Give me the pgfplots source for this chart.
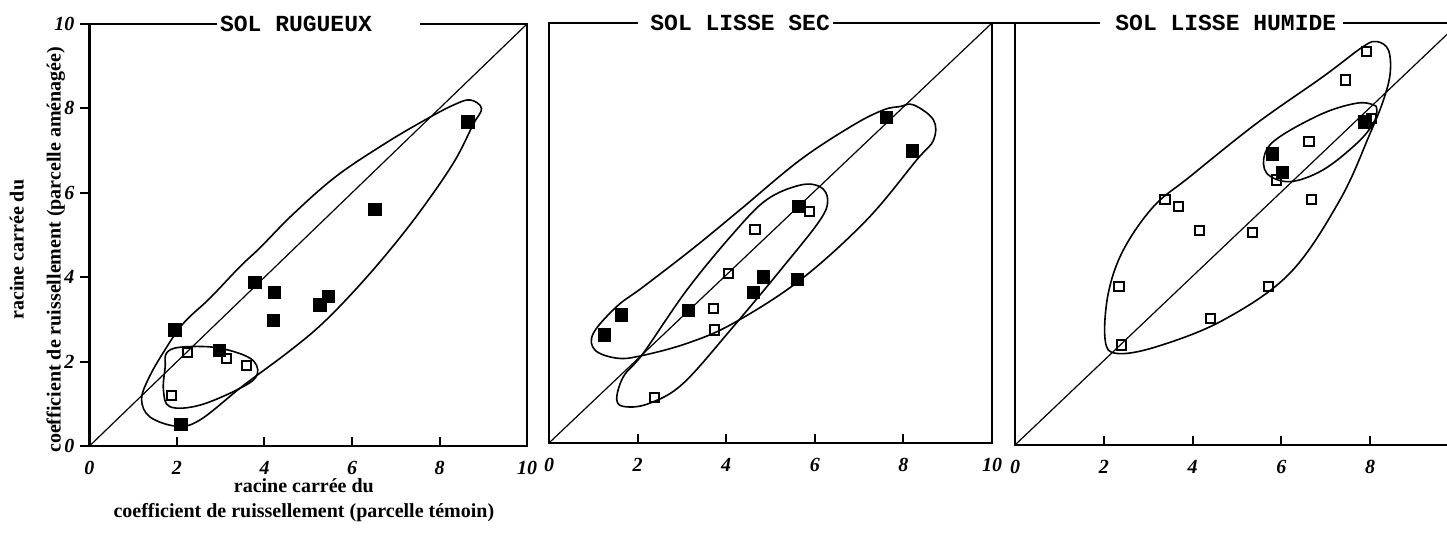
\documentclass[border=0pt]{standalone}
\usepackage{fontspec}
\setmainfont{Liberation Serif}
\setmonofont{Liberation Mono}
\usepackage{pgfplots}
\pgfplotsset{compat=1.18}
\pgfplotsset{
  panel/.style={
    scale only axis,
    xmin=0,xmax=10,ymin=0,ymax=10,
    clip=false,
    axis line style={line width=1.3pt},
    xtick={0,2,4,6,8,10},
    tick align=inside,
    xtick pos=left, ytick pos=left,
    major tick length=4.5pt,
    tick style={line width=1pt, black},
    /pgf/number format/assume math mode=true,
    ticklabel style={font=\fontsize{10}{12}\selectfont\bfseries\itshape},
    x tick label style={yshift=-4pt},
  },
  ell/.style={smooth cycle, no marks, line width=0.8pt, tension=0.6},
  diag/.style={no marks, line width=0.6pt},
  full/.style={only marks, mark=square*, mark size=3.1pt, black},
  open/.style={only marks, mark=square, mark size=2.3pt, black, mark options={line width=1pt}},
}
\tikzset{ttl/.style={anchor=west, inner xsep=1pt, font=\ttfamily\bfseries\fontsize{11.5}{12}\selectfont}}
\begin{document}
\begin{tikzpicture}
% ---------------- Panel 1 ----------------
\begin{axis}[panel, width=218.75pt, height=211pt, at={(0pt,0pt)},
  ytick={0,2,4,6,8,10},
  ytick style={xshift=-4.5pt},
  y tick label style={xshift=-4pt},
  xlabel={racine carrée du\\coefficient de ruissellement (parcelle témoin)},
  xlabel style={font=\bfseries\fontsize{10}{12.5}\selectfont, align=center, at={(axis description cs:0.49,0)}, anchor=north, yshift=-13pt},
  ylabel={racine carrée du\\[6pt]coefficient de ruissellement (parcelle aménagée)},
  ylabel style={font=\bfseries\fontsize{10}{12.5}\selectfont, align=center, at={(axis description cs:-0.119,0.465)}, anchor=center},
]
\fill[white] (rel axis cs:0.291,0.97) rectangle (rel axis cs:0.755,1.03);
\addplot[diag] coordinates {(0,0) (10,10)};
\addplot[ell] coordinates {(8.70,8.20) (8.32,8.08) (7.71,7.75) (6.79,7.19) (5.65,6.40) (4.66,5.50) (3.90,4.70) (3.44,4.25) (2.75,3.50) (2.14,2.90) (1.69,2.22) (1.35,1.60) (1.19,1.10) (1.38,0.69) (1.99,0.47) (2.53,0.62) (3.50,1.42) (4.51,2.20) (5.27,2.85) (6.03,3.65) (6.79,4.55) (7.55,5.55) (8.32,6.71) (8.77,7.62) (8.96,8.00)};
\addplot[ell] coordinates {(1.76,2.20) (2.07,2.34) (2.91,2.33) (3.67,2.08) (3.84,1.72) (3.52,1.41) (2.53,0.97) (1.84,0.93) (1.69,1.33) (1.73,1.88)};
\addplot[full] coordinates {(8.65,7.68) (6.52,5.61) (3.78,3.88) (4.22,3.64) (4.20,2.98) (5.46,3.55) (5.27,3.34) (1.95,2.75) (2.97,2.27) (2.09,0.51)};
\addplot[open] coordinates {(2.24,2.21) (3.13,2.07) (3.59,1.90) (1.88,1.20)};
\node[ttl] at (rel axis cs:0.293,1) {SOL RUGUEUX};
\end{axis}
% ---------------- Panel 2 ----------------
\begin{axis}[panel, width=221.5pt, height=210pt, at={(229.75pt,1.5pt)},
  ytick=\empty, axis line style={line width=1.2pt},
]
\fill[white] (rel axis cs:0.201,0.97) rectangle (rel axis cs:0.641,1.03);
\addplot[diag] coordinates {(0,0) (10,10)};
\addplot[ell] coordinates {(1.0,2.61) (1.04,2.21) (1.53,2.02) (2.05,2.07) (3.11,2.37) (4.16,2.85) (5.67,3.88) (7.17,5.31) (8.30,6.74) (8.68,7.21) (8.68,7.69) (8.23,8.05) (7.92,8.01) (7.55,7.93) (6.87,7.57) (5.67,6.74) (4.31,5.55) (3.26,4.64) (2.13,3.72) (1.53,3.25)};
\addplot[ell] coordinates {(1.75,0.86) (1.53,1.02) (1.68,1.58) (2.13,2.14) (3.11,3.64) (4.16,4.99) (4.91,5.79) (5.67,6.14) (6.12,6.10) (6.29,5.79) (6.12,5.31) (5.29,4.20) (4.16,2.77) (3.03,1.42) (2.28,0.95)};
\addplot[full] coordinates {(7.62,7.75) (8.20,6.95) (5.64,5.63) (4.84,3.95) (5.61,3.90) (4.61,3.59) (3.14,3.15) (1.63,3.05) (1.25,2.57)};
\addplot[open] coordinates {(5.88,5.52) (4.65,5.09) (4.06,4.04) (3.72,3.21) (3.73,2.69) (2.39,1.09)};
\node[ttl] at (rel axis cs:0.2235,1) {SOL LISSE SEC};
\end{axis}
% ---------------- Panel 3 ----------------
\begin{axis}[panel, width=222pt, height=211pt, at={(462.75pt,0.5pt)},
  ytick=\empty, xtick={0,2,4,6,8}, axis line style={line width=1.2pt},
]
\fill[white] (rel axis cs:0.191,0.97) rectangle (rel axis cs:0.739,1.03);
\draw[line width=1.2pt] (rel axis cs:-0.056,1) -- (rel axis cs:0,1);
\addplot[diag] coordinates {(0,0) (10,10)};
\addplot[ell] coordinates {(8.15,9.56) (8.41,9.36) (8.45,8.81) (8.30,8.18) (8.00,7.39) (7.32,5.81) (6.19,4.07) (4.69,2.96) (3.19,2.33) (2.29,2.17) (2.03,2.49) (2.10,3.59) (2.44,4.62) (3.12,5.65) (3.94,6.36) (5.44,7.62) (6.94,8.73) (7.84,9.44)};
\addplot[ell] coordinates {(8.15,7.94) (8.07,8.06) (7.70,8.10) (6.94,7.86) (5.97,7.31) (5.63,6.91) (5.67,6.44) (6.19,6.24) (6.94,6.52) (7.70,7.15) (8.07,7.62)};
\addplot[open] coordinates {(7.92,9.32) (7.45,8.65) (6.62,7.20) (5.89,6.28) (6.68,5.81) (3.38,5.81) (3.68,5.66) (4.15,5.09) (5.35,5.03) (2.34,3.75) (5.71,3.75) (4.41,3.00) (2.40,2.37) (8.03,7.74)};
\addplot[full] coordinates {(7.88,7.66) (5.80,6.90) (6.02,6.46)};
\node[ttl] at (rel axis cs:0.2207,1) {SOL LISSE HUMIDE};
\end{axis}
\pgfresetboundingbox
\path[use as bounding box] (-44.75pt,-49.5pt) rectangle (678.75pt,223pt);
\end{tikzpicture}
\end{document}
